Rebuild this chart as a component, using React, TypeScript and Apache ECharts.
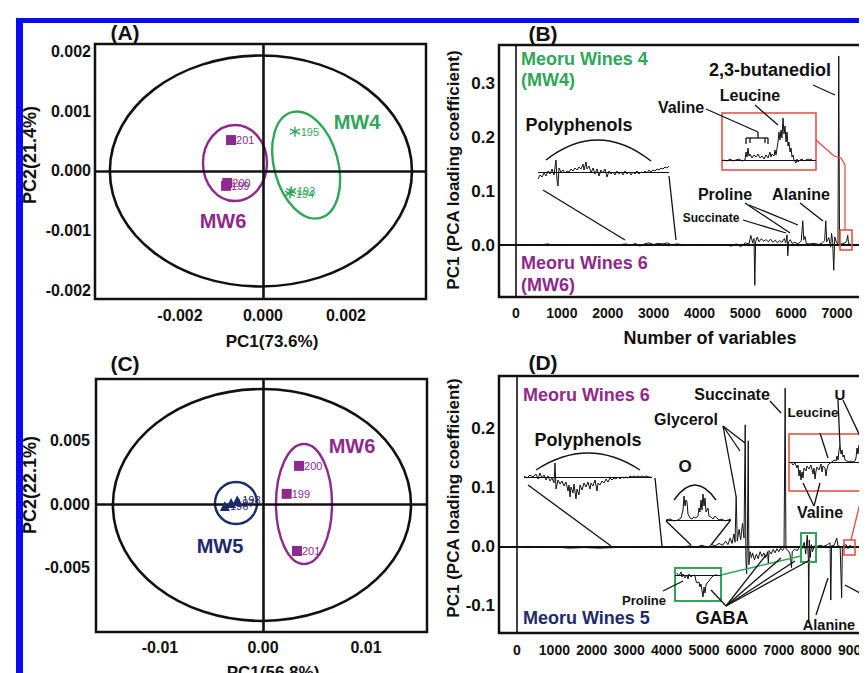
import React, { useEffect, useRef } from "react";
import * as echarts from "echarts";

const FONT = "'Liberation Sans', Arial, Helvetica, sans-serif";
const INK = "#111111";
const PURPLE = "#8E2A8C";
const GREEN = "#2FA65A";
const NAVY = "#1F2A6C";
const RED = "#E5473F";
const BLUE = "#0B0BF2";

// ---------- Panel A : PCA scores, MW4 vs MW6 ----------
const A_X_TICKS = [-0.002, 0, 0.002];
const A_Y_TICKS = [-0.002, -0.001, 0, 0.001, 0.002];
const A_MW6_IDS = ["201", "199", "200"];
const A_MW6_PC1 = [-0.00077, -0.00089, -0.00086];
const A_MW6_PC2 = [0.00052, -0.00025, -0.0002];
const A_MW4_IDS = ["195", "193", "194"];
const A_MW4_PC1 = [0.00077, 0.00068, 0.00065];
const A_MW4_PC2 = [0.00066, -0.00034, -0.00038];
// ellipses: [centre PC1, centre PC2, half PC1, half PC2, tilt deg]
const A_ELL_T2 = [-0.00005, 0, 0.00364, 0.00194, 0];
const A_ELL_MW6 = [-0.000675, 0.000134, 0.000771, 0.000639, 0];
const A_ELL_MW4 = [0.00104, 0.0001, 0.00077, 0.00092, 15];

// ---------- Panel C : PCA scores, MW5 vs MW6 ----------
const C_X_TICKS = [-0.01, 0, 0.01];
const C_Y_TICKS = [-0.005, 0, 0.005];
const C_MW5_IDS = ["196", "197", "198"];
const C_MW5_PC1 = [-0.0037, -0.0031, -0.0025];
const C_MW5_PC2 = [-0.00016, 0.00008, 0.0003];
const C_MW6_IDS = ["200", "199", "201"];
const C_MW6_PC1 = [0.0035, 0.0023, 0.0033];
const C_MW6_PC2 = [0.003, 0.0008, -0.0037];
const C_ELL_T2 = [-0.0001, -0.00008, 0.01447, 0.00913, 0];
const C_ELL_MW5 = [-0.00262, 0.00008, 0.00204, 0.00165, 0];
const C_ELL_MW6 = [0.00398, 0, 0.00272, 0.00472, 0];

// ---------- Panel B : PC1 loadings MW4 / MW6 ----------
const B_X_TICKS = [0, 1000, 2000, 3000, 4000, 5000, 6000, 7000];
const B_Y_TICKS = [0, 0.1, 0.2, 0.3];
const B_LOADINGS: [number, number][] = [
  [0, 0], [200, 0.001], [500, 0], [700, 0.002], [800, -0.001], [1000, 0.001], [1400, 0], [1800, 0.001],
  [2200, 0], [2400, 0.002], [2500, -0.001], [2600, 0.003], [2700, -0.002], [2800, 0.002], [2900, 0.004],
  [3000, 0.001], [3100, 0.003], [3200, 0.002], [3300, 0.004], [3400, 0], [3500, 0.002], [3700, 0],
  [4000, 0.001], [4300, 0], [4500, 0.001], [4700, -0.002], [4800, 0.002], [4900, -0.003], [5000, 0.004],
  [5080, 0.002], [5120, 0.018], [5160, 0.004], [5190, 0.012], [5207, -0.075], [5225, 0.006], [5260, 0.015],
  [5300, 0.006], [5350, 0.012], [5400, 0.007], [5450, 0.01], [5500, 0.006], [5550, 0.011], [5600, 0.005],
  [5650, 0.009], [5700, 0.004], [5750, 0.008], [5800, 0.005], [5850, 0.012], [5880, 0.004], [5910, 0.019],
  [5926, -0.02], [5945, 0.006], [5980, 0.01], [6020, 0.003], [6080, 0.005], [6150, 0.002], [6220, 0.008],
  [6253, 0.045], [6275, 0.01], [6300, 0.016], [6330, 0.003], [6400, 0.002], [6500, 0.003], [6600, 0.001],
  [6680, 0.004], [6730, 0.008], [6754, 0.045], [6775, 0.006], [6820, 0.014], [6860, -0.004], [6880, 0.022],
  [6905, 0.005], [6928, -0.047], [6950, 0.015], [6990, 0.004], [7020, 0.002], [7037, 0.352], [7055, 0.001],
  [7100, 0.002], [7180, 0.004], [7210, 0.008], [7233, 0.018], [7250, 0.003], [7300, 0.001], [7350, 0],
];
// B insets (relative units)
const B_POLY_ZOOM: [number, number][] = [
  [0, -7], [2, -3], [4, -5], [6, -1], [8, -4], [10, 1], [12, -2], [14, 3], [16, -3], [18, 12], [19, -8], [20, -14],
  [21, 4], [23, 0], [25, 2], [27, -1], [29, 1], [31, 0], [33, 3], [35, 1], [37, 4], [39, 2], [41, 5], [43, 3],
  [45, 8], [46, 2], [48, 10], [49, 3], [51, 6], [53, -1], [55, 4], [57, -2], [59, 3], [61, -4], [63, 2], [65, -1],
  [67, 3], [69, -5], [71, 1], [73, -2], [75, 0], [77, -3], [79, 1], [81, -2], [83, 0], [85, -3], [87, 1], [89, -2],
  [91, 0], [93, -3], [95, 0], [97, -2], [99, 1], [101, -2], [103, 0], [105, -1], [107, 1], [109, -1], [111, 2],
  [113, 0], [115, 2], [117, 1], [119, 3], [121, 2], [123, 4], [125, 3], [127, 5], [129, 4], [131, 6],
];
const B_AA_ZOOM: [number, number][] = [
  [2, 0], [5, -1], [8, 1], [11, -1], [14, 0], [17, 1], [20, -1], [23, 0], [24, 8], [25, 3], [26, 12], [27, 4],
  [28, 6], [30, 2], [32, 5], [34, 3], [36, 6], [38, 2], [40, 4], [42, 1], [44, 5], [46, 2], [48, 8], [49, 3],
  [50, 6], [52, 4], [53, 10], [54, 5], [56, 18], [57, 28], [58, 20], [59, 30], [60, 22], [61, 42], [62, 26],
  [63, 34], [64, 18], [65, 28], [66, 14], [67, 18], [68, 8], [69, 12], [70, 3], [71, 5], [72, 0], [74, -3],
  [75, 1], [76, -2], [78, 0], [80, 1], [82, -1], [84, 0], [86, 1], [88, 0], [90, 1],
];

// ---------- Panel D : PC1 loadings MW6 / MW5 ----------
const D_X_TICKS = [0, 1000, 2000, 3000, 4000, 5000, 6000, 7000, 8000, 9000];
const D_Y_TICKS = [-0.1, 0, 0.1, 0.2];
const D_LOADINGS: [number, number][] = [
  [0, 0], [300, 0.001], [600, -0.001], [1000, 0], [1400, -0.002], [1800, -0.001], [2200, -0.002], [2600, -0.001],
  [3000, 0], [3300, -0.001], [3600, 0.001], [3900, 0], [4200, 0.001], [4400, -0.001], [4600, 0.002], [4800, 0],
  [4950, 0.003], [5100, -0.001], [5200, 0.004], [5300, 0.002], [5400, 0.006], [5500, 0.003], [5580, 0.01],
  [5640, 0.004], [5700, 0.015], [5750, 0.006], [5800, 0.022], [5830, 0.008], [5860, 0.086], [5890, 0.01],
  [5940, 0.03], [5980, 0.012], [6030, 0.04], [6070, 0.015], [6102, 0.207], [6120, -0.02], [6140, -0.045],
  [6160, 0.01], [6183, 0.18], [6200, -0.03], [6230, -0.008], [6270, -0.018], [6300, -0.01], [6350, -0.022],
  [6400, -0.012], [6450, -0.02], [6500, -0.008], [6550, -0.016], [6600, -0.01], [6650, -0.018], [6700, -0.008],
  [6720, -0.028], [6740, -0.006], [6800, -0.012], [6850, -0.004], [6900, -0.01], [6950, -0.003], [7000, -0.008],
  [7050, -0.002], [7100, -0.006], [7140, -0.002], [7170, 0.269], [7190, -0.003], [7250, -0.006], [7300, -0.012],
  [7340, -0.035], [7360, -0.008], [7420, -0.004], [7500, -0.006], [7560, 0.002], [7620, -0.003], [7680, 0.008],
  [7720, -0.012], [7760, 0.02], [7790, -0.02], [7800, -0.129], [7815, 0.012], [7840, -0.018], [7870, 0.004],
  [7900, -0.008], [7950, 0.002], [8000, 0], [8100, 0.003], [8200, 0.001], [8300, 0.004], [8370, 0.007],
  [8390, -0.09], [8410, 0.002], [8480, 0.003], [8550, 0.015], [8580, 0.002], [8640, 0.001], [8680, -0.086],
  [8700, 0.001], [8800, 0.004], [8850, -0.003], [8900, 0.003], [8950, 0], [9050, 0.001], [9150, 0],
];
const D_POLY_ZOOM: [number, number][] = [
  [0, 1], [3, -1], [6, 2], [9, 0], [12, 3], [14, -2], [16, 4], [18, -1], [20, 2], [22, -3], [24, 1], [26, -4],
  [28, -1], [30, -6], [31, 14], [32, -12], [34, -3], [36, -7], [38, -4], [40, -9], [42, -5], [44, -14], [45, -8],
  [46, -20], [47, -10], [49, -16], [50, -7], [52, -22], [53, -12], [55, -18], [56, -8], [58, -13], [60, -6],
  [62, -10], [64, -5], [66, -12], [67, -6], [69, -9], [71, -3], [73, -14], [74, -6], [76, -8], [78, -4], [80, -6],
  [82, -2], [84, -5], [86, -1], [88, -3], [90, -1], [92, -2], [94, 0], [96, -2], [98, 0], [100, -1], [102, 0],
  [104, -1], [106, 1], [108, 0], [110, 1], [112, 0], [114, 1], [116, 0], [118, 1], [120, 0], [122, 1], [125, 0],
  [127, 0],
];
const D_O_ZOOM: [number, number][] = [
  [0, 0], [4, 1], [8, -1], [12, 0], [15, 2], [17, 10], [18, 24], [19, 14], [20, 20], [21, 18], [22, 6], [24, 2],
  [26, 1], [28, 3], [30, 2], [32, 4], [33, 12], [34, 8], [35, 20], [36, 10], [37, 26], [38, 14], [39, 22], [40, 8],
  [42, 12], [43, 4], [45, 3], [47, 1], [49, 4], [51, 2], [53, 0], [56, 1], [59, -1], [62, 0], [65, 1],
];
const D_AA_ZOOM: [number, number][] = [
  [2, 0], [4, -3], [6, -1], [8, -6], [9, -3], [10, -14], [11, -8], [12, -18], [13, -10], [14, -16], [15, -6],
  [17, -9], [18, -4], [20, -7], [22, -3], [24, -12], [25, -6], [26, -17], [27, -9], [28, -5], [30, -8], [32, -2],
  [33, -10], [34, -4], [36, -6], [37, -14], [38, -7], [39, -3], [41, -1], [43, 0], [45, 2], [47, 1], [48, 6],
  [49, 2], [50, 12], [51, 16], [52, 8], [53, 12], [54, 5], [55, 7], [56, 2], [58, 1], [60, 0], [62, 1], [64, 0],
  [66, 1], [67, 4], [68, 14], [69, 8], [70, 17], [71, 6], [72, 16], [73, 3], [75, 1], [77, 0], [79, 1],
];
const D_GABA_ZOOM: [number, number][] = [
  [2, 2], [4, -1], [6, 3], [7, -2], [8, 1], [10, -3], [12, 0], [13, -4], [14, 1], [16, -2], [18, 0], [20, -1],
  [21, -6], [22, -8], [24, -7], [25, -12], [26, -9], [27, -16], [28, -22], [29, -12], [30, -18], [31, -10],
  [32, -8], [34, -6], [36, -3], [38, -1], [40, 0], [42, 0],
];

// ---------------------------------------------------------------
const tickLabel = (values: number[], fmt: (v: number) => string, size: number, margin: number) => ({
  show: true,
  customValues: values,
  formatter: (v: number) => fmt(v),
  fontSize: size,
  fontWeight: "bold",
  color: INK,
  fontFamily: FONT,
  margin,
});

const axis = (gridIndex: number, min: number, max: number, label?: any) => ({
  type: "value",
  gridIndex,
  min,
  max,
  show: true,
  axisLine: { show: false },
  axisTick: { show: false },
  splitLine: { show: false },
  axisLabel: label || { show: false },
});

const zeroLines = (wx: number, wy: number, which: string[] = ["x", "y"]) => ({
  silent: true,
  symbol: ["none", "none"],
  label: { show: false },
  emphasis: { disabled: true },
  data: [
    ...(which.includes("x") ? [{ xAxis: 0, lineStyle: { color: INK, width: wx, type: "solid" } }] : []),
    ...(which.includes("y") ? [{ yAxis: 0, lineStyle: { color: INK, width: wy, type: "solid" } }] : []),
  ],
});

function ellipseSeries(e: number[], color: string, idx: number, width = 2.5) {
  return {
    type: "custom",
    xAxisIndex: idx,
    yAxisIndex: idx,
    silent: true,
    z: 3,
    clip: false,
    data: [e],
    encode: { x: 0, y: 1 },
    renderItem: (_p: any, api: any) => {
      const c = api.coord([api.value(0), api.value(1)]);
      const s = api.size([api.value(2), api.value(3)]);
      return {
        type: "ellipse",
        x: c[0],
        y: c[1],
        rotation: (api.value(4) * Math.PI) / 180,
        shape: { cx: 0, cy: 0, rx: s[0], ry: s[1] },
        style: { fill: "none", stroke: color, lineWidth: width },
      };
    },
  };
}

function scoreSeries(ids: string[], pc1: number[], pc2: number[], symbol: string, size: number, color: string, idx: number, extra: any = {}) {
  return {
    type: "scatter",
    xAxisIndex: idx,
    yAxisIndex: idx,
    symbol,
    symbolSize: size,
    z: 5,
    itemStyle: { color, borderColor: color, borderWidth: symbol.startsWith("path") ? 1.4 : 0, opacity: 1 },
    data: ids.map((id, i) => ({ name: id, value: [pc1[i], pc2[i]] })),
    label: {
      show: true,
      position: "right",
      distance: 0,
      formatter: (p: any) => p.name,
      color,
      fontSize: 11,
      fontFamily: FONT,
    },
    ...extra,
  };
}

const traceSeries = (data: [number, number][], idx: number, extra: any = {}) => ({
  type: "line",
  xAxisIndex: idx,
  yAxisIndex: idx,
  data,
  symbol: "none",
  showSymbol: false,
  silent: true,
  z: 4,
  lineStyle: { color: INK, width: 1 },
  ...extra,
});

// graphic helpers (annotation text, leader lines, frame)
const T = (text: string, x: number, y: number, size: number, color = INK, rot = 0, align = "center") => ({
  type: "text",
  x,
  y,
  z: 50,
  rotation: rot,
  style: { text, fill: color, fontSize: size, fontWeight: "bold", fontFamily: FONT, align, verticalAlign: "middle" },
});
const L = (x1: number, y1: number, x2: number, y2: number, color = INK, w = 1.3) => ({
  type: "line",
  z: 40,
  shape: { x1, y1, x2, y2 },
  style: { stroke: color, lineWidth: w },
});
const R = (x: number, y: number, width: number, height: number, color: string, w = 1.5) => ({
  type: "rect",
  z: 40,
  shape: { x, y, width, height },
  style: { fill: "none", stroke: color, lineWidth: w },
});
const ARC = (x1: number, y1: number, cpx: number, cpy: number, x2: number, y2: number) => ({
  type: "bezierCurve",
  z: 40,
  shape: { x1, y1, x2, y2, cpx1: cpx, cpy1: cpy },
  style: { stroke: INK, lineWidth: 1.4, fill: "none" },
});

function buildOption() {
  const boxed = { show: true, borderColor: INK, borderWidth: 2.5, backgroundColor: "transparent", outerBoundsMode: "none", containLabel: false };
  const plain = { show: false, outerBoundsMode: "none", containLabel: false };
  const grid = [
    { left: 87, top: 36, width: 331, height: 255, ...boxed }, // A
    { left: 491, top: 37, width: 380, height: 252, ...boxed }, // B
    { left: 88, top: 371, width: 331, height: 253, ...boxed }, // C
    { left: 491, top: 368, width: 380, height: 257, ...boxed }, // D
    { left: 530, top: 145, width: 131, height: 35, ...plain }, // B polyphenol zoom
    { left: 714, top: 105, width: 94, height: 57, ...plain, show: true, borderColor: RED, borderWidth: 1.5 }, // B AA zoom
    { left: 516, top: 455, width: 128, height: 45, ...plain }, // D polyphenol zoom
    { left: 658, top: 472, width: 65, height: 45, ...plain }, // D O zoom
    { left: 781, top: 426, width: 82, height: 57, ...plain, show: true, borderColor: RED, borderWidth: 1.5 }, // D AA zoom
    { left: 667, top: 560, width: 46, height: 33, ...plain, show: true, borderColor: GREEN, borderWidth: 2 }, // D GABA zoom
  ];

  const f3 = (v: number) => v.toFixed(3);
  const f2 = (v: number) => v.toFixed(2);
  const f1 = (v: number) => v.toFixed(1);
  const f0 = (v: number) => String(Math.round(v));

  const xAxis = [
    axis(0, -0.004048, 0.003928, tickLabel(A_X_TICKS, f3, 16, 8)),
    axis(1, -371, 7915, tickLabel(B_X_TICKS, f0, 14, 9)),
    axis(2, -0.016214, 0.015922, tickLabel(C_X_TICKS, f2, 16, 7)),
    axis(3, -481, 9679, tickLabel(D_X_TICKS, f0, 14, 10)),
    axis(4, 0, 131),
    axis(5, 0, 94),
    axis(6, 0, 128),
    axis(7, 0, 65),
    axis(8, 0, 82),
    axis(9, 0, 46),
  ];
  const yAxis = [
    axis(0, -0.002151, 0.002134, tickLabel(A_Y_TICKS, f3, 16, 4)),
    axis(1, -0.0968, 0.3724, tickLabel(B_Y_TICKS, f1, 17, 4)),
    axis(2, -0.010079, 0.009843, tickLabel(C_Y_TICKS, f3, 16, 6)),
    axis(3, -0.1458, 0.2898, tickLabel(D_Y_TICKS, f1, 17, 4)),
    axis(4, -16, 19),
    axis(5, -10, 47),
    axis(6, -31, 14),
    axis(7, -5, 40),
    axis(8, -29, 28),
    axis(9, -26, 7),
  ];

  const asterisk = "path://M5 0L5 10M0.67 2.5L9.33 7.5M0.67 7.5L9.33 2.5";

  const series: any[] = [
    // ----- A -----
    ellipseSeries(A_ELL_T2, INK, 0, 2.6),
    ellipseSeries(A_ELL_MW6, PURPLE, 0, 2.4),
    ellipseSeries(A_ELL_MW4, GREEN, 0, 2.4),
    scoreSeries(A_MW6_IDS, A_MW6_PC1, A_MW6_PC2, "rect", 10, PURPLE, 0, { markLine: zeroLines(2.6, 2.6) }),
    scoreSeries(A_MW4_IDS, A_MW4_PC1, A_MW4_PC2, asterisk, 10, GREEN, 0),
    // ----- C -----
    ellipseSeries(C_ELL_T2, INK, 2, 2.6),
    ellipseSeries(C_ELL_MW5, NAVY, 2, 2.4),
    ellipseSeries(C_ELL_MW6, PURPLE, 2, 2.4),
    scoreSeries(C_MW6_IDS, C_MW6_PC1, C_MW6_PC2, "rect", 10, PURPLE, 2, { markLine: zeroLines(2.6, 2.6) }),
    scoreSeries(C_MW5_IDS, C_MW5_PC1, C_MW5_PC2, "triangle", 10, NAVY, 2),
    // ----- B -----
    traceSeries(B_LOADINGS, 1, { markLine: zeroLines(1.6, 2) }),
    traceSeries(B_POLY_ZOOM, 4, { markLine: zeroLines(1, 1, ["y"]) }),
    traceSeries(B_AA_ZOOM, 5, { markLine: zeroLines(1, 1.2, ["y"]) }),
    // ----- D -----
    traceSeries(D_LOADINGS, 3, { markLine: zeroLines(1.6, 2) }),
    traceSeries(D_POLY_ZOOM, 6, { markLine: zeroLines(1, 1, ["y"]) }),
    traceSeries(D_O_ZOOM, 7, { markLine: zeroLines(1, 1, ["y"]) }),
    traceSeries(D_AA_ZOOM, 8, { markLine: zeroLines(1, 1.2, ["y"]) }),
    traceSeries(D_GABA_ZOOM, 9, { markLine: zeroLines(1, 1.2, ["y"]) }),
  ];

  const V = -Math.PI / 2 * -1; // rotate text to read bottom-to-top
  const elements: any[] = [
    // panel letters
    T("(A)", 117, 24, 21),
    T("(B)", 535, 25, 21),
    T("(C)", 117, 355, 21),
    T("(D)", 535, 354, 21),
    // axis titles
    T("PC2(21.4%)", 22, 147, 18, INK, V),
    T("PC1(73.6%)", 264, 333, 17),
    T("PC2(22.1%)", 22, 477, 18, INK, V),
    T("PC1(56.8%)", 265, 664, 17),
    T("PC1 (PCA loading coefficient)", 445, 162, 17, INK, V),
    T("Number of variables", 702, 330, 18),
    T("PC1 (PCA loading coefficient)", 445, 490, 17, INK, V),
    T("Number of variables", 702, 674, 18),
    // score-plot groups
    T("MW4", 349, 114, 20, GREEN),
    T("MW6", 215, 213, 20, PURPLE),
    T("MW6", 344, 438, 20, PURPLE),
    T("MW5", 212, 538, 20, NAVY),
    // ----- B annotations -----
    T("Meoru Wines 4", 513, 51, 18, GREEN, 0, "left"),
    T("(MW4)", 513, 72, 18, GREEN, 0, "left"),
    T("Meoru Wines 6", 513, 255, 18, PURPLE, 0, "left"),
    T("(MW6)", 513, 277, 18, PURPLE, 0, "left"),
    T("Polyphenols", 571, 117, 18),
    T("2,3-butanediol", 762, 62, 18),
    T("Leucine", 742, 87, 16),
    T("Valine", 673, 99, 16),
    T("Proline", 717, 186, 16),
    T("Alanine", 793, 186, 16),
    T("Succinate", 703, 210, 12),
    ARC(538, 152, 590, 111.5, 643, 153),
    L(535, 182, 617, 232),
    L(661, 168, 668, 232),
    L(805, 77, 827, 87),
    L(747, 97, 770, 117),
    L(698, 101, 750, 124),
    L(750, 124, 750, 130),
    L(738, 130, 760, 130),
    L(738, 130, 738, 136),
    L(742, 130, 742, 135),
    L(757, 130, 757, 135),
    L(760, 130, 760, 136),
    L(737, 195, 782, 225),
    L(741, 197, 790, 217),
    L(792, 195, 815, 213),
    L(735, 212, 778, 225),
    {
      type: "polyline",
      z: 40,
      shape: { points: [[808, 132], [826, 148], [833, 150], [837, 157], [837, 222]] },
      style: { stroke: RED, lineWidth: 1.2, fill: "none" },
    },
    R(832, 222, 12, 20, RED, 1.5),
    // ----- D annotations -----
    T("Meoru Wines 6", 515, 387, 18, PURPLE, 0, "left"),
    T("Meoru Wines 5", 515, 610, 18, NAVY, 0, "left"),
    T("Polyphenols", 580, 432, 18),
    T("O", 677, 458, 17),
    T("Glycerol", 678, 411, 16),
    T("Succinate", 724, 386, 16),
    T("Leucine", 805, 404, 13.5),
    T("U", 832, 386, 15),
    T("Valine", 812, 504, 16),
    T("Proline", 636, 592, 13),
    T("GABA", 714, 610, 18),
    T("Alanine", 821, 617, 14.5),
    T("2,3-butanediol", 862, 583, 10, INK, V),
    ARC(528, 462, 580, 428, 632, 462),
    ARC(666, 492, 687, 462, 708, 492),
    L(520, 477, 603, 538),
    L(647, 470, 654, 538),
    L(658, 513, 683, 537),
    L(722, 513, 703, 537),
    L(715, 418, 728, 488),
    L(715, 418, 732, 443),
    L(715, 418, 737, 435),
    L(762, 393, 773, 405),
    L(812, 425, 820, 450),
    L(830, 392, 832, 438),
    L(835, 392, 852, 428),
    L(806, 498, 795, 475),
    L(806, 498, 812, 475),
    L(855, 483, 843, 532, RED, 1.3),
    R(836, 532, 11, 15, RED, 1.5),
    R(793, 525, 15, 29, GREEN, 2),
    L(713, 567, 793, 548, GREEN, 1.3),
    L(655, 583, 675, 573),
    L(718, 598, 703, 582),
    L(718, 598, 758, 547),
    L(718, 598, 773, 550),
    L(718, 598, 787, 553),
    L(718, 598, 802, 552),
    L(808, 607, 820, 570),
    L(852, 585, 837, 577),
    // blue frame
    { type: "rect", z: 100, shape: { x: 8, y: 10, width: 870, height: 5 }, style: { fill: BLUE } },
    { type: "rect", z: 100, shape: { x: 8, y: 10, width: 7, height: 670 }, style: { fill: BLUE } },
    { type: "rect", z: 100, shape: { x: 8, y: 668, width: 870, height: 6 }, style: { fill: BLUE } },
  ];

  return {
    animation: false,
    backgroundColor: "#ffffff",
    textStyle: { fontFamily: FONT },
    tooltip: { show: false },
    grid,
    xAxis,
    yAxis,
    series,
    graphic: { elements },
  };
}

export default function App() {
  const ref = useRef<HTMLDivElement>(null);
  useEffect(() => {
    if (!ref.current) return;
    const chart = echarts.init(ref.current, undefined, { renderer: "svg" });
    chart.setOption(buildOption() as any);
    return () => chart.dispose();
  }, []);
  return (
    <div
      ref={ref}
      style={{ position: "fixed", left: 0, top: 0, width: 867, height: 673, background: "#fff" }}
    />
  );
}
